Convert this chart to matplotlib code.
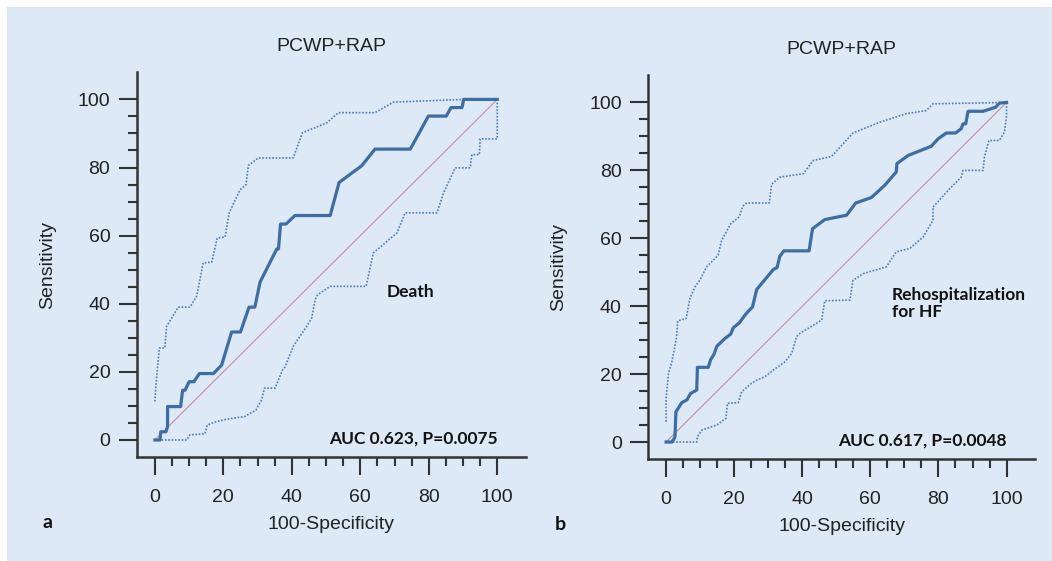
import matplotlib
matplotlib.use("Agg")
import matplotlib.pyplot as plt

plt.rcParams["font.family"] = ["Liberation Sans", "DejaVu Sans"]

# panel a: Death
death_x = [0, 1.5, 1.7, 3.2, 3.7, 3.7, 7.5, 8.1, 8.8, 10.0, 11.4, 13.0, 17.1, 19.5, 22.4, 25.0,
           27.5, 29.2, 30.7, 35.6, 36.1, 36.7, 38.3, 40.9, 51.2, 53.8, 60.4, 64.3, 74.6, 79.9,
           85.1, 86.5, 89.7, 90.2, 100]
death_y = [0, 0, 2.4, 2.4, 3.9, 9.8, 9.8, 14.6, 14.6, 17.1, 17.1, 19.5, 19.5, 22.0, 31.7, 31.7,
           39.0, 39.0, 46.3, 56.1, 56.1, 63.4, 63.4, 65.9, 65.9, 75.6, 80.5, 85.4, 85.4, 95.1,
           95.1, 97.6, 97.6, 100, 100]
death_up_x = [0, 0.3, 1.3, 2.9, 3.4, 4.9, 6.8, 10.2, 12.2, 14.1, 16.6, 18.2, 20.5, 21.7, 24.9,
              26.6, 27.3, 30.2, 40.4, 43.1, 50.2, 53.6, 64.3, 69.7, 90.2, 100]
death_up_y = [11.3, 16.2, 27.0, 27.0, 33.3, 35.8, 39.0, 39.0, 42.2, 52.0, 52.2, 59.3, 59.6, 66.7,
              73.5, 75.0, 80.6, 82.8, 82.8, 90.2, 93.1, 96.1, 96.1, 99.2, 100, 100]
death_lo_x = [0, 9.3, 10.2, 14.6, 15.3, 18.0, 21.0, 26.3, 29.5, 31.2, 32.0, 35.1, 37.3, 38.0,
              40.4, 44.3, 45.8, 46.8, 47.5, 51.2, 61.7, 63.8, 70.7, 73.1, 82.4, 84.3, 87.7,
              92.1, 92.6, 94.8, 95.0, 100, 100]
death_lo_y = [0, 0, 1.5, 1.8, 4.4, 5.4, 6.1, 6.9, 8.8, 11.8, 15.2, 15.2, 20.6, 21.4, 27.5, 33.3,
              35.8, 41.2, 42.6, 45.1, 45.1, 54.9, 60.8, 66.7, 66.7, 72.5, 79.9, 79.9, 83.8, 83.8,
              88.4, 88.4, 100]

# panel b: Rehospitalization for HF
rehf_x = [0, 1.7, 2.6, 2.9, 4.6, 6.1, 7.2, 9.0, 9.2, 12.4, 13.1, 14.1, 14.9, 17.3, 19.0, 19.7,
          21.5, 23.5, 25.4, 26.6, 29.0, 31.5, 32.6, 33.4, 34.6, 42.0, 43.0, 46.6, 53.0, 55.7,
          60.3, 64.2, 67.6, 67.8, 71.1, 77.9, 79.9, 82.3, 85.0, 86.7, 87.2, 88.0, 88.7, 93.1,
          96.8, 97.9, 100]
rehf_y = [0, 0, 1.4, 8.9, 11.6, 12.4, 14.3, 15.3, 22.0, 22.0, 24.3, 25.9, 28.2, 30.5, 31.8, 33.6,
          35.1, 37.8, 39.8, 44.9, 47.8, 50.8, 51.4, 54.7, 56.3, 56.3, 62.8, 65.5, 66.8, 70.4,
          72.0, 75.6, 79.5, 82.0, 84.4, 87.1, 89.3, 91.0, 91.0, 92.3, 93.7, 93.7, 97.4, 97.4,
          98.6, 99.8, 100]
rehf_up_x = [0, 0, 0.7, 1.7, 3.1, 3.4, 4.3, 5.9, 7.0, 8.5, 10.0, 11.9, 15.3, 16.3, 19.0, 21.5,
             22.5, 23.7, 30.3, 31.0, 33.4, 40.3, 43.2, 48.6, 54.9, 62.8, 70.6, 76.4, 78.4, 100]
rehf_up_y = [6.0, 12.8, 20.2, 23.6, 31.0, 35.7, 35.9, 36.4, 42.3, 45.7, 47.8, 51.6, 55.0, 59.4,
             64.3, 66.3, 69.4, 70.4, 70.4, 75.9, 78.0, 79.0, 82.9, 84.1, 91.0, 94.2, 96.7, 97.6,
             99.6, 100]
rehf_lo_x = [0, 9.0, 9.2, 10.5, 13.4, 14.9, 17.6, 18.0, 21.2, 22.2, 25.1, 26.6, 29.0, 31.5, 34.9,
             36.9, 38.3, 39.3, 45.7, 46.6, 54.0, 54.9, 57.9, 64.7, 67.6, 71.6, 75.5, 78.4, 78.4,
             83.3, 86.7, 87.2, 93.1, 93.5, 94.8, 97.9, 99.4, 100, 100]
rehf_lo_y = [0, 0, 1.6, 3.5, 4.5, 5.0, 7.0, 11.4, 11.6, 14.8, 17.3, 18.2, 19.2, 21.2, 23.6, 26.1,
             31.0, 32.0, 35.9, 41.6, 41.8, 47.6, 49.6, 51.6, 56.0, 57.0, 60.4, 65.3, 69.2, 74.6,
             78.0, 80.0, 80.0, 83.9, 88.8, 88.8, 91.3, 96.2, 100]

panels = [
    dict(letter="a", label="Death", label_x=67.7, auc="AUC 0.623, P=0.0075",
         x=death_x, y=death_y, ux=death_up_x, uy=death_up_y, lx=death_lo_x, ly=death_lo_y,
         rect=[0.130, 0.1854, 0.370, 0.686]),
    dict(letter="b", label="Rehospitalization\nfor HF", label_x=66.3, auc="AUC 0.617, P=0.0048",
         x=rehf_x, y=rehf_y, ux=rehf_up_x, uy=rehf_up_y, lx=rehf_lo_x, ly=rehf_lo_y,
         rect=[0.616, 0.1818, 0.368, 0.684]),
]

bg = "#dde9f7"
line_col = "#3b6ea6"
axis_col = "#333333"

fig = plt.figure(figsize=(10.52, 5.61), dpi=100)
fig.patch.set_facecolor("white")
fig.patches.append(plt.Rectangle((7 / 1052, 0), 1, 1 - 7 / 561, transform=fig.transFigure,
                                 facecolor=bg, edgecolor="none", zorder=-10))

for p in panels:
    ax = fig.add_axes(p["rect"])
    ax.set_facecolor("none")
    ax.plot([0, 100], [0, 100], color="#c58aa5", linewidth=0.8, zorder=1)
    ax.plot(p["ux"], p["uy"], color="#4a7db3", linewidth=1.2, linestyle=(0, (1, 1)), zorder=2)
    ax.plot(p["lx"], p["ly"], color="#4a7db3", linewidth=1.2, linestyle=(0, (1, 1)), zorder=2)
    ax.plot(p["x"], p["y"], color=line_col, linewidth=2.3, zorder=3)

    ax.set_xlim(-5.3, 108.4)
    ax.set_ylim(-5, 108)
    for side in ("top", "right"):
        ax.spines[side].set_visible(False)
    for side in ("left", "bottom"):
        ax.spines[side].set_color(axis_col)
        ax.spines[side].set_linewidth(1.8)

    ax.set_xticks(range(0, 101, 20))
    ax.set_yticks(range(0, 101, 20))
    ax.set_xticks([v for v in range(0, 101, 5) if v % 20], minor=True)
    ax.set_yticks([v for v in range(0, 101, 5) if v % 20], minor=True)
    ax.tick_params(which="major", length=13, width=1.5, color=axis_col, labelsize=14,
                   labelcolor="#222222")
    ax.tick_params(which="minor", length=6.5, width=1.5, color=axis_col)
    ax.tick_params(axis="x", which="major", pad=10)
    ax.tick_params(axis="y", which="major", pad=6)

    ax.set_title("PCWP+RAP", fontsize=14, color="#222222", pad=15)
    ax.set_xlabel("100-Specificity", fontsize=14, color="#222222", labelpad=7.5)
    ax.set_ylabel("Sensitivity", fontsize=14, color="#222222", labelpad=15.5)

    ax.text(p["label_x"], 45.8, p["label"], fontsize=12.5, fontweight="bold", family="Lato",
            color="#111111", va="top", ha="left", linespacing=1.1)
    ax.text(100, 0.5, p["auc"], fontsize=12.5, fontweight="bold", family="Lato",
            color="#111111", va="center", ha="right")
    ax.text(-0.241, -0.171, p["letter"], transform=ax.transAxes, fontsize=14,
            fontweight="bold", family="Lato", color="#111111", va="center", ha="left")

fig.savefig("out.png", dpi=100, facecolor=fig.get_facecolor())
